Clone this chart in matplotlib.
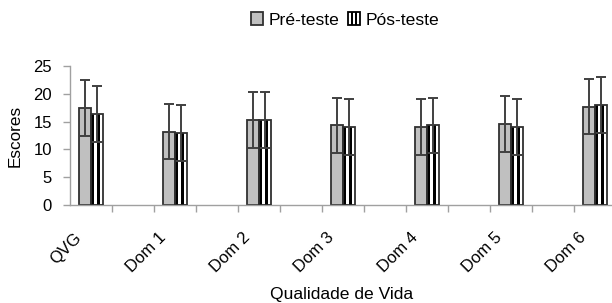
import numpy as np
import matplotlib.pyplot as plt
from matplotlib.patches import Patch, Rectangle
from matplotlib.legend_handler import HandlerBase

plt.rcParams['font.family'] = ['Liberation Sans', 'DejaVu Sans']

# data
dominios = ['QVG', 'Dom 1', 'Dom 2', 'Dom 3', 'Dom 4', 'Dom 5', 'Dom 6']
pre_media = [17.4, 13.2, 15.3, 14.3, 14.0, 14.6, 17.7]
pre_dp = [5.0, 5.0, 5.0, 5.0, 5.0, 5.0, 5.0]
pos_media = [16.4, 12.95, 15.3, 14.0, 14.3, 14.0, 18.0]
pos_dp = [5.0, 5.0, 5.0, 5.0, 5.0, 5.0, 5.05]

grey = '#c0c0c0'
dark = '#303030'
axis_col = '#a0a0a0'


class StripeHandler(HandlerBase):
    # white box with two black vertical stripes, like the Pós-teste bars
    def create_artists(self, legend, orig_handle, xdescent, ydescent,
                       width, height, fontsize, trans):
        x0, y0 = -xdescent, -ydescent
        arts = [Rectangle((x0, y0), width, height, facecolor='white',
                          linewidth=0, transform=trans)]
        for f in (0.22, 0.58):
            arts.append(Rectangle((x0 + f*width, y0), 0.2*width, height,
                                  facecolor='black', linewidth=0, transform=trans))
        arts.append(Rectangle((x0, y0), width, height, facecolor='none',
                              edgecolor='black', linewidth=1.3, transform=trans))
        return arts


fig = plt.figure(figsize=(6.12, 3.03), dpi=100)
ax = fig.add_axes([70/612, 98/303, 546/612, 139/303])

x = np.arange(len(dominios)) * 2   # empty category between each group
w = 0.275

# Pré-teste
ax.bar(x - w/2, pre_media, w, color=grey, edgecolor=dark, linewidth=1.3, zorder=2)
ax.errorbar(x - w/2, pre_media, yerr=pre_dp, fmt='none', ecolor='#404040',
            elinewidth=1.4, capsize=3.3, capthick=1.4, zorder=4)

# Pós-teste: white bar with two black stripes
ax.bar(x + w/2, pos_media, w, color='white', linewidth=0, zorder=2)
ax.bar(x, pos_media, w*0.27, align='edge', color='black', linewidth=0, zorder=3)
ax.bar(x + w*0.54, pos_media, w*0.27, align='edge', color='black', linewidth=0, zorder=3)
ax.bar(x + w/2, pos_media, w, color='none', edgecolor=dark, linewidth=1.3, zorder=3)
ax.errorbar(x + w/2, pos_media, yerr=pos_dp, fmt='none', ecolor='#404040',
            elinewidth=1.4, capsize=3.3, capthick=1.4, zorder=4)

ax.set_xlim(-0.5, 12.5)
ax.set_ylim(0, 25)
ax.set_yticks([0, 5, 10, 15, 20, 25])
ax.set_xticks(x - 0.15)
ax.set_xticklabels(dominios, rotation=45, ha='right', va='top')
ax.set_xticks(np.arange(0.5, 13, 1), minor=True)
ax.tick_params(axis='x', which='major', length=0, labelsize=12, pad=18)
ax.tick_params(axis='x', which='minor', length=5, color=axis_col, width=1)
ax.tick_params(axis='y', length=5, color=axis_col, width=1, labelsize=12, pad=8)

for s in ['top', 'right']:
    ax.spines[s].set_visible(False)
ax.spines['left'].set_color(axis_col)
ax.spines['bottom'].set_color(axis_col)
ax.spines['left'].set_linewidth(1)
ax.spines['bottom'].set_linewidth(1)

ax.set_ylabel('Escores', fontsize=12.3, labelpad=8)
fig.text(342/612, 4/303, 'Qualidade de Vida', ha='center', va='baseline', fontsize=12.6)

handles = [Patch(facecolor=grey, edgecolor=dark, linewidth=1.3),
           Patch(facecolor='white', edgecolor='black')]
fig.legend(handles, ['Pré-teste', 'Pós-teste'], loc='center', ncol=2,
           bbox_to_anchor=(345/612, 1 - 20/303), frameon=False, fontsize=12.6,
           handlelength=0.7, handleheight=0.75, handletextpad=0.3, columnspacing=0.5,
           handler_map={handles[1]: StripeHandler()})

fig.savefig('out.png', dpi=100)
